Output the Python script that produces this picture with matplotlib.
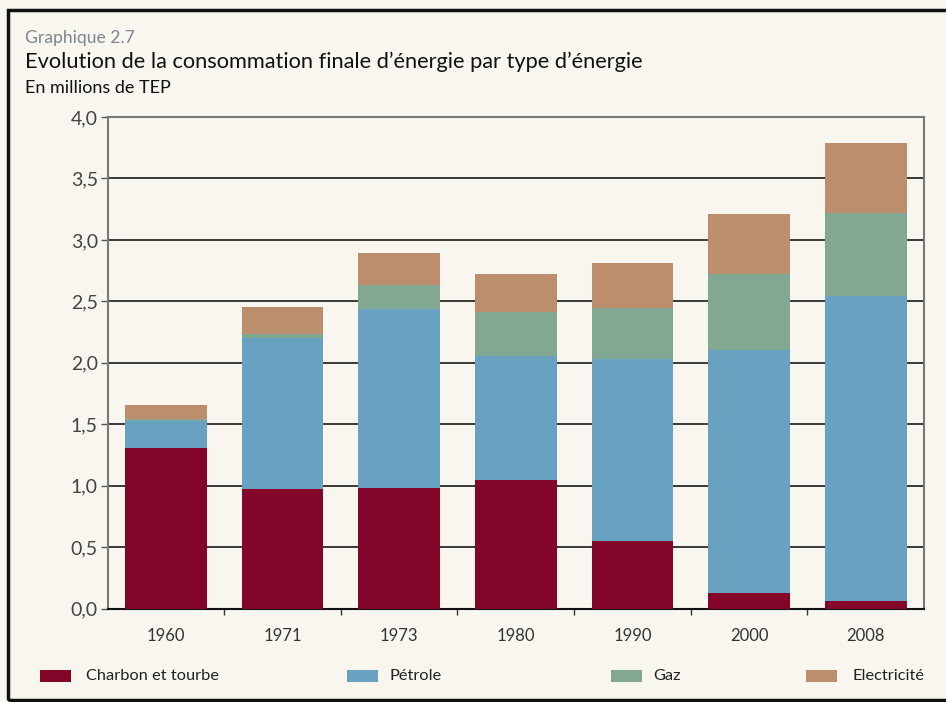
import matplotlib
matplotlib.use("Agg")
import matplotlib.pyplot as plt
from matplotlib.patches import Rectangle
import numpy as np

years = ["1960", "1971", "1973", "1980", "1990", "2000", "2008"]
charbon = [1.31, 0.97, 0.98, 1.045, 0.55, 0.13, 0.065]
petrole = [0.22, 1.23, 1.46, 1.01, 1.48, 1.975, 2.48]
gaz = [0.01, 0.03, 0.19, 0.36, 0.415, 0.615, 0.675]
electricite = [0.12, 0.22, 0.26, 0.31, 0.365, 0.49, 0.565]

series = [("Charbon et tourbe", charbon, "#83062a"),
          ("Pétrole", petrole, "#68a2c0"),
          ("Gaz", gaz, "#82a894"),
          ("Electricité", electricite, "#bd8e6e")]
yticks = [0.0, 0.5, 1.0, 1.5, 2.0, 2.5, 3.0, 3.5, 4.0]
ytick_labels = ["0,0", "0,5", "1,0", "1,5", "2,0", "2,5", "3,0", "3,5", "4,0"]

font = ["Lato", "DejaVu Sans"]
plt.rcParams["font.family"] = font
bg = "#f9f6f0"

fig = plt.figure(figsize=(9.46, 7.02), dpi=100, facecolor=bg)
W, H = 946, 702
ax = fig.add_axes([107.5 / W, 1 - 608.5 / H, (924 - 107.5) / W, (608.5 - 117) / H])
ax.set_facecolor(bg)

x = np.arange(len(years))
bottom = np.zeros(len(years))
for name, vals, col in series:
    ax.bar(x, vals, width=0.70, bottom=bottom, color=col, label=name, zorder=3, linewidth=0)
    bottom += np.array(vals)

ax.set_xlim(-0.5, len(years) - 0.5)
ax.set_ylim(0, 4.0)
ax.set_yticks(yticks)
ax.set_yticklabels(ytick_labels, fontsize=14, color="#444444")
ax.yaxis.grid(True, color="#2a2a2a", linewidth=1.3, zorder=1)
ax.set_axisbelow(True)
ax.tick_params(axis="y", length=5, width=1, color="#555555", pad=2)

ax.set_xticks(x)
ax.set_xticklabels(years, fontsize=12, color="#333333")
ax.tick_params(axis="x", which="major", length=0, pad=14)
ax.set_xticks(np.arange(0.5, len(years) - 1, 1.0), minor=True)
ax.tick_params(axis="x", which="minor", length=4, width=1, color="#333333", direction="out")

for s in ["left", "right", "top"]:
    ax.spines[s].set_color("#777777")
    ax.spines[s].set_linewidth(1.5)
ax.spines["bottom"].set_color("#111111")
ax.spines["bottom"].set_linewidth(1.5)

# outer frame
fig.patches.append(Rectangle((8 / W, 1 - 700 / H), (960 - 8) / W, (700 - 10) / H,
                             transform=fig.transFigure, fill=False,
                             edgecolor="#111111", linewidth=2.5, clip_on=False))

fig.text(25 / W, 1 - 38 / H, "Graphique 2.7", fontsize=12.6, color="#7d8790", va="center", ha="left")
fig.text(25 / W, 1 - 62 / H, "Evolution de la consommation finale d\u2019énergie par type d\u2019énergie",
         fontsize=15.7, color="#111111", va="center", ha="left")
fig.text(25 / W, 1 - 88 / H, "En millions de TEP", fontsize=13, color="#111111", va="center", ha="left")

# legend
leg_pos = [(40, 86), (347, 389), (611, 653), (806, 852)]
for (name, vals, col), (px, tx) in zip(series, leg_pos):
    fig.patches.append(Rectangle((px / W, 1 - 682 / H), 31 / W, 12 / H,
                                 transform=fig.transFigure, facecolor=col, edgecolor="none"))
    fig.text(tx / W, 1 - 676.5 / H, name, fontsize=11.8, color="#222222", va="center", ha="left")

fig.savefig("out.png", dpi=100, facecolor=bg)
